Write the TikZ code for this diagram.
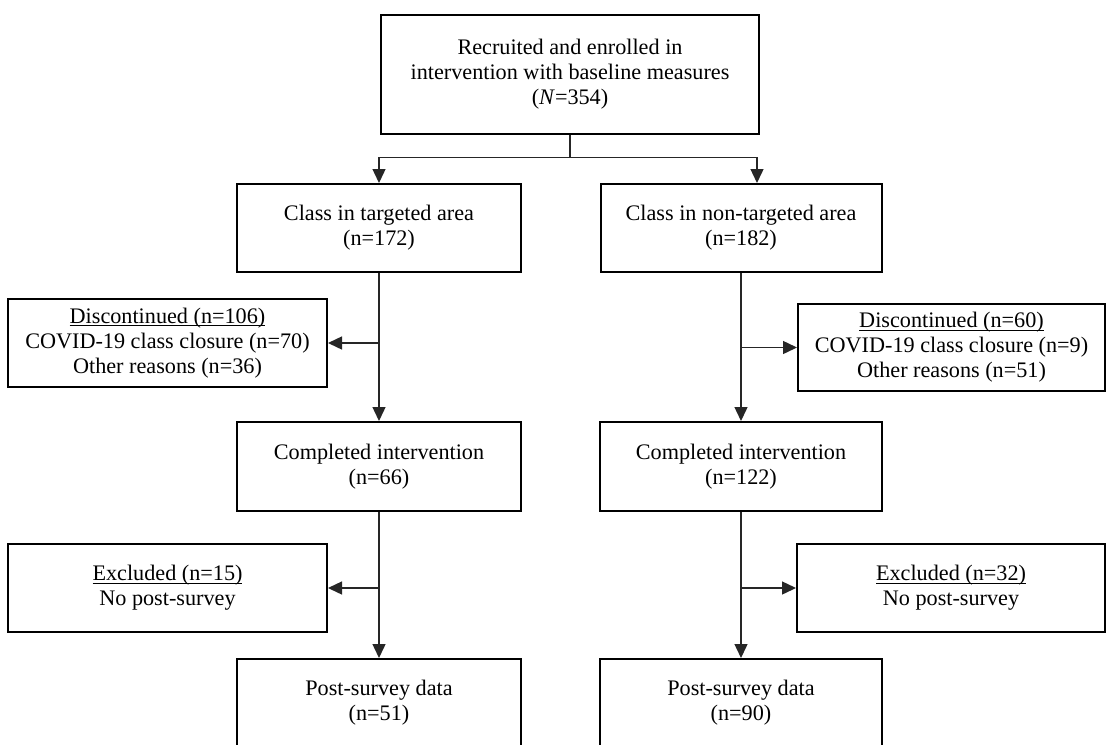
\documentclass[tikz,border=0pt]{standalone}
\usepackage{fontspec}
\setmainfont{Liberation Serif}
\usetikzlibrary{arrows.meta}
\newcommand\myul[1]{{\setbox0\hbox{#1}\rlap{\rule[-2.6pt]{\wd0}{0.9pt}}\box0}}
\begin{document}
\begin{tikzpicture}[x=1pt,y=-1pt,
  box/.style={draw=black, line width=2pt, align=center, inner sep=0pt,
    font=\fontsize{22.2}{25}\selectfont},
  conn/.style={line width=1.4pt, draw=black!85},
  arr/.style={conn, -{Triangle[length=14pt,width=13pt]}}]
\useasboundingbox (0,0) rectangle (1107,744);
\clip (0,0) rectangle (1107,744);
\node[box, minimum width=378pt, minimum height=119pt] (top) at (570,74)
  {Recruited and enrolled in\\intervention with baseline measures\\(\textit{N}=354)};
\node[box, minimum width=284pt, minimum height=88pt] (classL) at (379,228)
  {Class in targeted area\\(n=172)};
\node[box, minimum width=281pt, minimum height=88pt] (classR) at (741,228)
  {Class in non-targeted area\\(n=182)};
\node[box, minimum width=319pt, minimum height=88pt] (discL) at (167.5,343)
  {\myul{Discontinued (n=106)}\\COVID-19 class closure (n=70)\\Other reasons (n=36)};
\node[box, minimum width=307pt, minimum height=87pt] (discR) at (951.5,347.5)
  {\myul{Discontinued (n=60)}\\COVID-19 class closure (n=9)\\Other reasons (n=51)};
\node[box, minimum width=284pt, minimum height=89pt] (compL) at (379,466.5)
  {Completed intervention\\(n=66)};
\node[box, minimum width=282pt, minimum height=89pt] (compR) at (741,466.5)
  {Completed intervention\\(n=122)};
\node[box, minimum width=319pt, minimum height=88pt] (exclL) at (167.5,588)
  {\myul{Excluded (n=15)}\\No post-survey};
\node[box, minimum width=308pt, minimum height=88pt] (exclR) at (951,588)
  {\myul{Excluded (n=32)}\\No post-survey};
\node[box, minimum width=284pt, minimum height=88pt] (postL) at (379,703)
  {Post-survey data\\(n=51)};
\node[box, minimum width=282pt, minimum height=88pt] (postR) at (741,703)
  {Post-survey data\\(n=90)};
% split from top
\draw[conn] (top.south) -- ++(0,23) coordinate (split);
\draw[arr] (split) -| (classL.north);
\draw[arr] (split) -| ([xshift=16pt]classR.north);
% left column
\draw[arr] (classL.south) -- (compL.north);
\draw[arr] (classL.south |- discL.east) -- (discL.east);
\draw[arr] (compL.south) -- (postL.north);
\draw[arr] (compL.south |- exclL.east) -- (exclL.east);
% right column
\draw[arr] (classR.south) -- (compR.north);
\draw[arr] (classR.south |- discR.west) -- (discR.west);
\draw[arr] (compR.south) -- (postR.north);
\draw[arr] (compR.south |- exclR.west) -- (exclR.west);
\end{tikzpicture}
\end{document}
